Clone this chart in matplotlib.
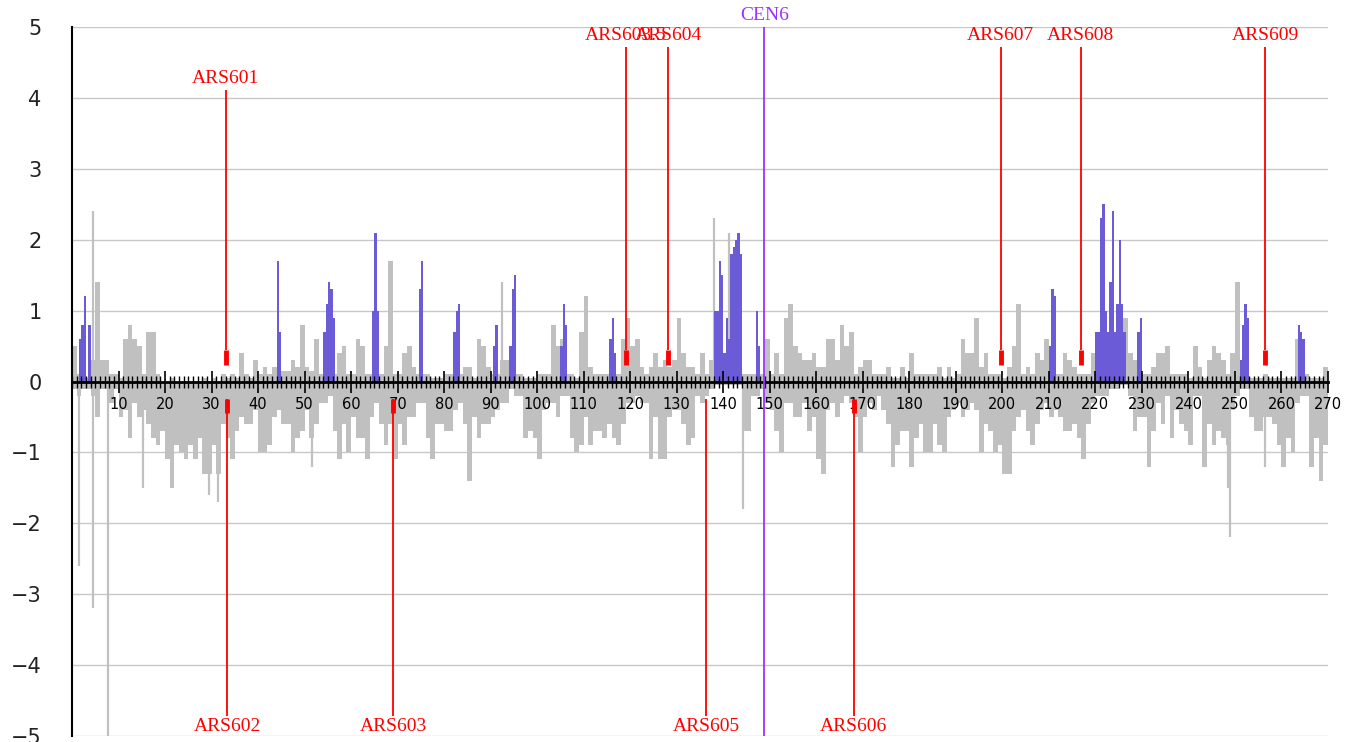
import numpy as np
import matplotlib.pyplot as plt

# chromosome VI signal, one value per 1 kb bin (bin k covers k..k+1 kb)
pos = [
    0.5, 0.1, 0.1, 0.05, 0.3, 1.4, 0.3, 0.3, 0.1, 0.1,
    0.05, 0.6, 0.8, 0.6, 0.5, 0.1, 0.7, 0.7, 0.1, 0.0,
    0.0, 0.05, 0.0, 0.0, 0.0, 0.0, 0.0, 0.0, 0.05, 0.0,
    0.05, 0.0, 0.1, 0.05, 0.1, 0.05, 0.4, 0.1, 0.05, 0.3,
    0.1, 0.2, 0.1, 0.2, 0.2, 0.15, 0.15, 0.3, 0.2, 0.8,
    0.2, 0.15, 0.6, 0.1, 0.1, 0.1, 0.1, 0.4, 0.5, 0.1,
    0.1, 0.6, 0.5, 0.1, 0.1, 0.1, 0.1, 0.5, 1.7, 0.1,
    0.1, 0.4, 0.5, 0.2, 0.1, 0.1, 0.1, 0.05, 0.05, 0.05,
    0.1, 0.1, 0.1, 0.1, 0.2, 0.2, 0.05, 0.6, 0.5, 0.2,
    0.1, 0.1, 0.3, 0.3, 0.1, 0.1, 0.1, 0.05, 0.05, 0.05,
    0.1, 0.1, 0.1, 0.8, 0.5, 0.6, 0.1, 0.1, 0.05, 0.7,
    1.2, 0.2, 0.1, 0.1, 0.1, 0.1, 0.1, 0.1, 0.6, 0.9,
    0.5, 0.6, 0.2, 0.1, 0.2, 0.4, 0.2, 0.3, 0.2, 0.3,
    0.9, 0.4, 0.2, 0.2, 0.1, 0.4, 0.1, 0.3, 0.1, 0.1,
    0.1, 0.1, 0.1, 0.1, 0.1, 0.1, 0.1, 0.1, 0.1, 0.6,
    0.1, 0.4, 0.1, 0.9, 1.1, 0.5, 0.4, 0.3, 0.3, 0.4,
    0.2, 0.2, 0.6, 0.6, 0.3, 0.8, 0.5, 0.7, 0.1, 0.2,
    0.3, 0.3, 0.1, 0.1, 0.1, 0.2, 0.05, 0.05, 0.2, 0.05,
    0.4, 0.1, 0.1, 0.1, 0.1, 0.1, 0.2, 0.05, 0.2, 0.05,
    0.1, 0.6, 0.4, 0.4, 0.9, 0.2, 0.4, 0.1, 0.1, 0.1,
    0.05, 0.2, 0.5, 1.1, 0.1, 0.2, 0.1, 0.4, 0.3, 0.6,
    0.1, 0.1, 0.1, 0.4, 0.3, 0.2, 0.1, 0.1, 0.1, 0.4,
    0.1, 0.1, 0.1, 0.1, 0.1, 0.1, 0.9, 0.4, 0.3, 0.1,
    0.1, 0.1, 0.2, 0.4, 0.4, 0.5, 0.1, 0.1, 0.1, 0.1,
    0.05, 0.5, 0.2, 0.05, 0.3, 0.5, 0.4, 0.3, 0.1, 0.4,
    1.4, 0.1, 0.1, 0.05, 0.05, 0.05, 0.1, 0.05, 0.05, 0.05,
    0.05, 0.05, 0.05, 0.6, 0.1, 0.1, 0.05, 0.05, 0.05, 0.2,
]
neg = [
    -0.1, -0.2, -0.1, -0.1, -0.2, -0.5, -0.1, -0.1, -0.3, -0.1,
    -0.5, -0.4, -0.8, -0.3, -0.5, -0.4, -0.6, -0.8, -0.9, -0.7,
    -1.1, -1.5, -0.9, -1.0, -1.1, -0.9, -1.1, -0.8, -1.3, -1.3,
    -0.9, -1.3, -0.6, -0.8, -1.1, -0.7, -0.5, -0.6, -0.6, -0.4,
    -1.0, -1.0, -0.9, -0.5, -0.4, -0.6, -0.6, -1.0, -0.8, -0.7,
    -0.4, -0.8, -0.6, -0.3, -0.3, -0.2, -0.7, -1.1, -0.6, -1.0,
    -0.5, -0.8, -0.8, -1.1, -0.5, -0.3, -0.6, -0.9, -0.6, -1.1,
    -0.6, -0.9, -0.5, -0.5, -0.3, -0.3, -0.8, -1.1, -0.6, -0.6,
    -0.7, -0.7, -0.4, -0.3, -0.6, -1.4, -0.5, -0.8, -0.6, -0.6,
    -0.5, -0.4, -0.3, -0.3, -0.1, -0.2, -0.2, -0.8, -0.7, -0.8,
    -1.1, -0.4, -0.3, -0.3, -0.5, -0.2, -0.2, -0.8, -1.0, -0.9,
    -0.5, -0.9, -0.7, -0.7, -0.8, -0.6, -0.8, -0.9, -0.6, -0.3,
    -0.3, -0.2, -0.3, -0.3, -1.1, -0.5, -1.1, -1.1, -0.5, -0.4,
    -0.4, -0.6, -0.9, -0.8, -0.2, -0.3, -0.2, -0.1, -0.05, -0.05,
    -0.05, -0.05, -0.05, -0.05, -0.7, -0.7, -0.2, -0.2, -0.1, -0.3,
    -0.4, -0.7, -1.0, -0.3, -0.3, -0.5, -0.5, -0.3, -0.7, -0.5,
    -1.1, -1.3, -0.4, -0.3, -0.5, -0.3, -0.2, -0.3, -0.5, -1.0,
    -0.5, -0.3, -0.4, -0.2, -0.4, -0.6, -1.2, -0.9, -0.7, -0.7,
    -1.2, -0.8, -0.6, -1.0, -1.0, -0.6, -0.9, -1.0, -0.5, -0.4,
    -0.3, -0.5, -0.4, -0.3, -0.4, -1.0, -0.6, -0.7, -1.0, -0.9,
    -1.3, -1.3, -0.7, -0.5, -0.4, -0.7, -0.9, -0.6, -0.4, -0.3,
    -0.5, -0.4, -0.5, -0.7, -0.7, -0.6, -0.8, -1.1, -0.6, -0.3,
    -0.2, -0.2, -0.2, -0.1, -0.1, -0.05, -0.05, -0.2, -0.7, -0.5,
    -0.5, -1.2, -0.7, -0.3, -0.6, -0.2, -0.8, -0.4, -0.6, -0.7,
    -0.9, -0.2, -0.2, -1.2, -0.6, -0.9, -0.7, -0.8, -0.9, -0.4,
    -0.2, -0.1, -0.1, -0.5, -0.7, -0.7, -0.5, -0.5, -0.6, -0.9,
    -1.2, -0.8, -1.0, -0.3, -0.2, -0.2, -1.2, -0.8, -1.4, -0.9,
]

# single narrow probes
spike_kb = [4.6, 92.4, 138.1, 141.3, 1.5, 4.5, 7.8, 15.2, 29.5, 31.3,
            51.5, 144.3, 248.6, 249.0, 256.5]
spike_val = [2.4, 1.4, 2.3, 2.1, -2.6, -3.2, -5.1, -1.5, -1.6, -1.7,
             -1.2, -1.8, -1.5, -2.2, -1.2]

# significant peaks (0.5 kb bins, left edge)
blue_kb = [1.5, 2.0, 2.5, 3.5, 44.0, 44.5,
           54.0, 54.5, 55.0, 55.5, 56.0, 64.5, 65.0, 65.5, 74.5, 75.0,
           82.0, 82.5, 83.0, 90.5, 91.0, 94.0, 94.5, 95.0,
           105.0, 105.5, 106.0, 115.5, 116.0, 116.5,
           138.0, 138.5, 139.0, 139.5, 140.0, 140.5, 141.0, 141.5, 142.0, 142.5, 143.0, 143.5,
           147.0, 147.5, 210.0, 210.5, 211.0,
           220.0, 220.5, 221.0, 221.5, 222.0, 222.5, 223.0, 223.5, 224.0, 224.5, 225.0, 225.5, 226.0,
           229.0, 229.5, 251.0, 251.5, 252.0, 252.5, 263.5, 264.0, 264.5]
blue_val = [0.6, 0.8, 1.2, 0.8, 1.7, 0.7,
            0.7, 1.1, 1.4, 1.3, 0.9, 1.0, 2.1, 1.0, 1.3, 1.7,
            0.7, 1.0, 1.1, 0.5, 0.8, 0.5, 1.3, 1.5,
            0.5, 1.1, 0.8, 0.6, 0.9, 0.4,
            1.0, 1.0, 1.7, 1.5, 0.4, 0.9, 0.6, 1.8, 1.9, 2.0, 2.1, 1.8,
            1.0, 0.5, 0.5, 1.3, 1.2,
            0.7, 0.7, 2.3, 2.5, 1.0, 0.7, 1.4, 2.4, 0.7, 1.1, 2.0, 1.1, 0.7,
            0.7, 0.9, 0.3, 0.8, 1.1, 0.9, 0.8, 0.7, 0.6]

ars_names = ["ARS601", "ARS602", "ARS603", "ARS603.5", "ARS604",
             "ARS605", "ARS606", "ARS607", "ARS608", "ARS609"]
ars_kb = [33.0, 33.4, 69.0, 119.1, 128.2, 136.3, 168.0, 199.6, 216.8, 256.5]
ars_top = [True, False, False, True, True, False, False, True, True, True]
cen_kb = 148.8

bins = np.arange(len(pos))
gray = "#c0c0c0"
red = "#ff0000"

fig = plt.figure(figsize=(13.45, 7.42), dpi=100)
ax = fig.add_axes([72 / 1345, 6 / 742, 1256 / 1345, 709 / 742])

# horizontal grid behind everything
for yv in range(-5, 6):
    ax.axhline(yv, color="#c8c8c8", lw=1, zorder=0.5)

ax.bar(bins, pos, width=1.0, align="edge", color=gray, linewidth=0, zorder=2)
ax.bar(bins, neg, width=1.0, align="edge", color=gray, linewidth=0, zorder=2)
ax.vlines(spike_kb, 0, spike_val, color=gray, lw=1.6, zorder=2)
ax.bar(blue_kb, blue_val, width=0.5, align="edge", color="#6b5bd6", linewidth=0, zorder=3)

# ARS elements
for name, kb, top in zip(ars_names, ars_kb, ars_top):
    if top:
        label_y = 4.27 if name == "ARS601" else 4.88
        ax.vlines(kb, 0.45, label_y - 0.16, color=red, lw=1.3, zorder=5)
        ax.vlines(kb, 0.23, 0.45, color=red, lw=3.5, zorder=5)
        ax.text(kb, label_y, name, color=red, ha="center", va="center",
                fontsize=14, family="Liberation Serif", zorder=6)
    else:
        ax.vlines(kb, -4.72, -0.24, color=red, lw=1.3, zorder=5)
        if name != "ARS605":
            ax.vlines(kb, -0.45, -0.24, color=red, lw=3.5, zorder=5)
        ax.text(kb, -4.86, name, color=red, ha="center", va="center",
                fontsize=14, family="Liberation Serif", zorder=6)

ax.vlines(cen_kb, -5, 5, color="#9933ff", lw=1.3, zorder=5)
ax.text(cen_kb, 5.16, "CEN6", color="#9933ff", ha="center", va="center",
        fontsize=14, family="Liberation Serif", clip_on=False)

ax.set_xlim(0, 270)
ax.set_ylim(-5, 5)
ax.spines["top"].set_visible(False)
ax.spines["right"].set_visible(False)
ax.spines["left"].set_linewidth(1.5)
ax.spines["bottom"].set_position(("data", 0))
ax.spines["bottom"].set_linewidth(2)
ax.spines["bottom"].set_zorder(4)

ax.set_yticks(range(-5, 6))
ax.tick_params(axis="y", length=0, pad=22, labelsize=15, labelcolor="#222222")
ax.set_xticks(range(10, 271, 10))
ax.set_xticks(range(0, 271), minor=True)
ax.tick_params(axis="x", which="major", direction="inout", length=16, width=1.2,
               labelsize=10.5, pad=3)
ax.tick_params(axis="x", which="minor", direction="inout", length=9, width=1)

# x axis (ticks and labels) on top of the bars
ax.set_axisbelow(True)
ax.xaxis.set_zorder(4)

fig.savefig("out.png", dpi=100)
